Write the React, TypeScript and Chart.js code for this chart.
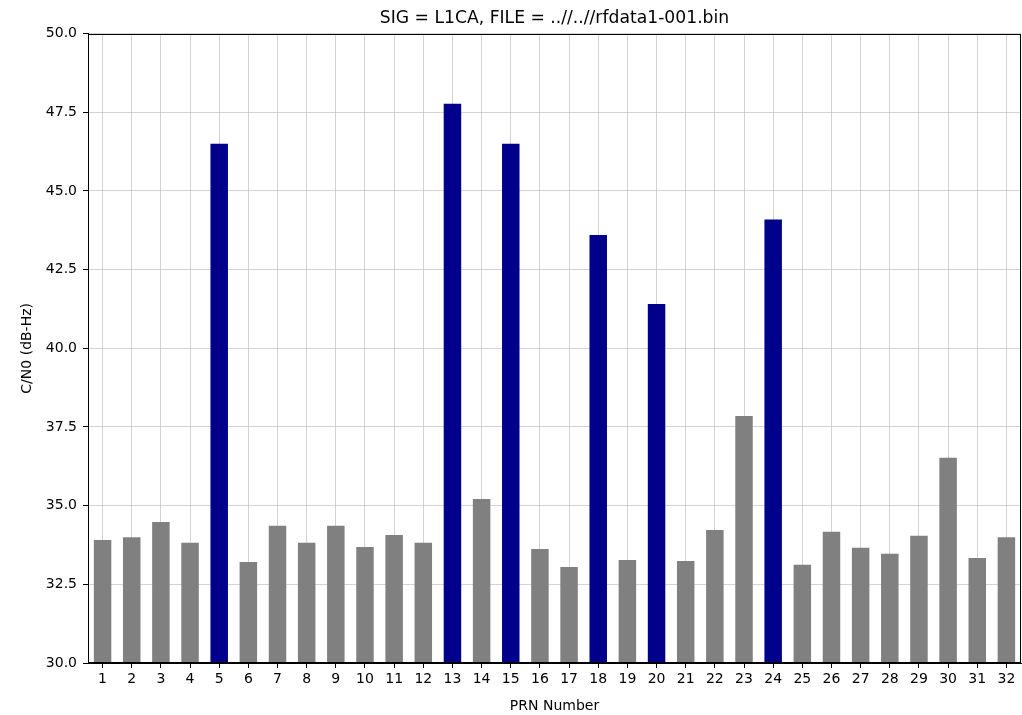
import React, { useEffect, useRef } from "react";
import { Chart, registerables } from "chart.js";

Chart.register(...registerables);

const prnLabels = ["1","2","3","4","5","6","7","8","9","10","11","12","13","14","15","16","17","18","19","20","21","22","23","24","25","26","27","28","29","30","31","32"];
const cn0Values = [33.91, 34.0, 34.48, 33.82, 46.5, 33.21, 34.36, 33.82, 34.36, 33.69, 34.07, 33.82, 47.77, 35.21, 46.5, 33.62, 33.05, 43.6, 33.27, 41.41, 33.24, 34.23, 37.85, 44.09, 33.12, 34.17, 33.66, 33.47, 34.04, 36.52, 33.34, 34.0];
const trackedPrns = ["5", "13", "15", "18", "20", "24"];
const yTicks = [30, 32.5, 35, 37.5, 40, 42.5, 45, 47.5, 50];

const FONT = "'DejaVu Sans', sans-serif";

const framePlugin = {
  id: "frame",
  afterDraw(chart: any) {
    const { ctx, chartArea } = chart;
    ctx.save();
    ctx.strokeStyle = "#000";
    ctx.lineWidth = 1;
    ctx.strokeRect(
      Math.round(chartArea.left) + 0.5,
      Math.round(chartArea.top) + 0.5,
      Math.round(chartArea.right - chartArea.left) - 1,
      Math.round(chartArea.bottom - chartArea.top) - 1
    );
    ctx.restore();
  },
};

export default function App() {
  const ref = useRef<HTMLCanvasElement | null>(null);
  useEffect(() => {
    if (!ref.current) return;
    const colors = prnLabels.map((p) => (trackedPrns.includes(p) ? "#00008b" : "#808080"));
    const chart = new Chart(ref.current, {
      type: "bar",
      data: {
        labels: prnLabels,
        datasets: [
          {
            data: cn0Values,
            backgroundColor: colors,
            borderWidth: 0,
            categoryPercentage: 0.6,
            barPercentage: 1.0,
          },
        ],
      },
      plugins: [framePlugin],
      options: {
        responsive: false,
        animation: false,
        devicePixelRatio: 1,
        layout: { padding: { left: 0, right: 1, top: 0, bottom: 0 } },
        plugins: {
          legend: { display: false },
          tooltip: { enabled: false },
          title: {
            display: true,
            text: "SIG = L1CA, FILE = ..//..//rfdata1-001.bin",
            color: "#000",
            font: { family: FONT, size: 17.2, weight: "normal" },
            padding: { top: 8, bottom: 5 },
            fullSize: false,
          },
        },
        scales: {
          x: {
            type: "category",
            offset: true,
            z: 1,
            grid: {
              offset: false,
              color: "rgba(185,185,185,0.8)",
              lineWidth: 0.8,
              tickColor: "#000",
              tickLength: 5,
              tickWidth: 1,
            },
            border: { display: true, color: "#000", width: 1 },
            ticks: {
              color: "#000",
              font: { family: FONT, size: 14 },
              padding: 3,
              maxRotation: 0,
              autoSkip: false,
            },
            title: {
              display: true,
              text: "PRN Number",
              color: "#000",
              font: { family: FONT, size: 14 },
              padding: { top: 2, bottom: 0 },
            },
            afterFit(scale: any) {
              scale.height = 52;
            },
          },
          y: {
            type: "linear",
            min: 30,
            max: 50,
            z: 1,
            afterBuildTicks(scale: any) {
              scale.ticks = yTicks.map((v) => ({ value: v }));
            },
            grid: {
              color: "rgba(185,185,185,0.8)",
              lineWidth: 0.8,
              tickColor: "#000",
              tickLength: 5,
              tickWidth: 1,
            },
            border: { display: true, color: "#000", width: 1 },
            ticks: {
              color: "#000",
              font: { family: FONT, size: 14 },
              padding: 6,
              callback: (v: any) => Number(v).toFixed(1),
            },
            title: {
              display: true,
              text: "C/N0 (dB-Hz)",
              color: "#000",
              font: { family: FONT, size: 14 },
              padding: { top: 18.5, bottom: 0 },
            },
            afterFit(scale: any) {
              scale.width = 88;
            },
          },
        },
      },
    } as any);
    return () => chart.destroy();
  }, []);
  return (
    <canvas
      ref={ref}
      width={1022}
      height={715}
      style={{ position: "absolute", left: 0, top: 0, width: 1022, height: 715 }}
    />
  );
}
